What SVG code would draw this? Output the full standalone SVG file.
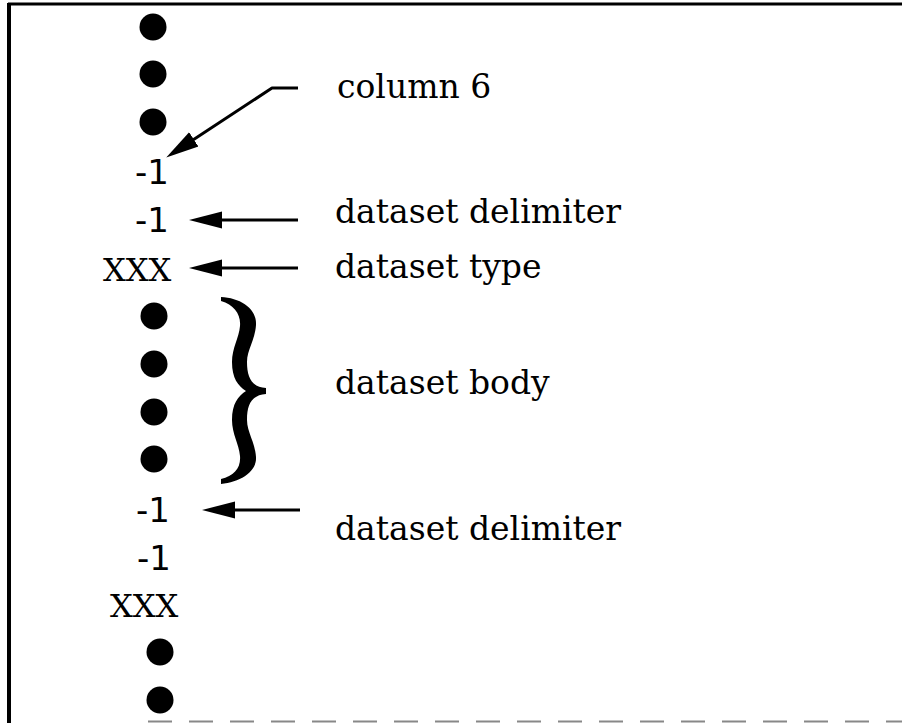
<svg xmlns="http://www.w3.org/2000/svg" width="902" height="723" viewBox="0 0 902 723">
  <style>
    .label { font-family: "DejaVu Serif", "Liberation Serif", serif; font-size: 33px; fill: #000; }
    .code { font-family: "DejaVu Sans", "Liberation Sans", sans-serif; font-size: 34px; fill: #000; }
    .type { font-family: "DejaVu Serif", "Liberation Serif", serif; font-size: 32px; fill: #000; }
    .dot { fill: #000; }
    .conn { fill: none; stroke: #000; stroke-width: 3; stroke-linejoin: round; marker-end: url(#head); }
  </style>
  <defs>
    <marker id="head" markerUnits="userSpaceOnUse" markerWidth="36" markerHeight="20" viewBox="0 -10 36 20" refX="22" refY="0" orient="auto">
      <path d="M0,-8.5 L33,0 L0,8.5 Z" fill="#000"/>
    </marker>
  </defs>

  <!-- frame -->
  <g id="frame">
    <path d="M8,4 L902,4" stroke="#000" stroke-width="3" fill="none"/>
    <path d="M9,3 L9,723" stroke="#000" stroke-width="4" fill="none"/>
    <path d="M148,721.5 L902,721.5" stroke="#888" stroke-width="2" stroke-dasharray="24 17" fill="none"/>
  </g>

  <!-- record column -->
  <g id="dots-top">
    <circle class="dot" cx="153" cy="27" r="13.5"/>
    <circle class="dot" cx="153" cy="74" r="13.5"/>
    <circle class="dot" cx="153" cy="122" r="13.5"/>
  </g>
  <g id="col6-value"><text class="code" x="135" y="184">-1</text></g>
  <g id="delim-1"><text class="code" x="135" y="232">-1</text></g>
  <g id="type-1"><text class="type" x="103" y="281">XXX</text></g>
  <g id="dots-body">
    <circle class="dot" cx="154" cy="316" r="13.5"/>
    <circle class="dot" cx="154" cy="364" r="13.5"/>
    <circle class="dot" cx="154" cy="412" r="13.5"/>
    <circle class="dot" cx="154" cy="459" r="13.5"/>
  </g>
  <g id="delim-2"><text class="code" x="136" y="522">-1</text></g>
  <g id="delim-3"><text class="code" x="137" y="570">-1</text></g>
  <g id="type-2"><text class="type" x="110" y="617">XXX</text></g>
  <g id="dots-bottom">
    <circle class="dot" cx="160" cy="652" r="13.5"/>
    <circle class="dot" cx="160" cy="700" r="13.5"/>
  </g>

  <!-- body brace -->
  <g id="brace">
    <path fill="#000" d="M221,297 C240,298 257,308 256,325 C255,340 247,350 247,362 C247,378 252,387 266,388 L266,394 C252,395 247,404 247,420 C247,432 255,442 256,457 C257,472 240,482 221,484 L221,479 C234,476 241,468 240,456 C239,444 232,434 232,420 C232,404 238,396 246,391 C238,386 232,378 232,362 C232,348 239,338 240,326 C241,314 234,305 221,301 Z"/>
  </g>

  <!-- labels -->
  <g id="label-col6"><text class="label" x="337" y="98">column 6</text></g>
  <g id="label-delim-1"><text class="label" x="335" y="223">dataset delimiter</text></g>
  <g id="label-type"><text class="label" x="335" y="278">dataset type</text></g>
  <g id="label-body"><text class="label" x="335" y="394">dataset body</text></g>
  <g id="label-delim-2"><text class="label" x="335" y="540">dataset delimiter</text></g>

  <!-- connectors -->
  <g id="connectors">
    <polyline class="conn" points="298,88 272,88 175.4,151.5"/>
    <line class="conn" x1="298" y1="220" x2="200" y2="220"/>
    <line class="conn" x1="298" y1="268" x2="200" y2="268"/>
    <line class="conn" x1="300" y1="510" x2="213" y2="510"/>
  </g>
</svg>
